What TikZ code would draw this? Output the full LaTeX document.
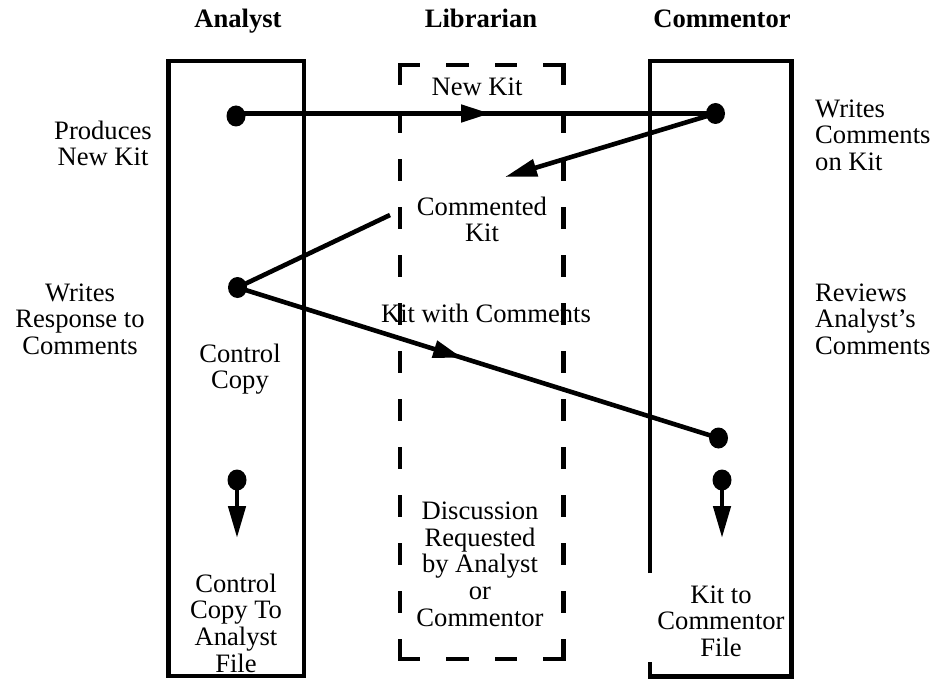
\documentclass[tikz,border=0pt]{standalone}
\usepackage{fontspec}
\setmainfont{Liberation Serif}
\usetikzlibrary{arrows.meta,decorations.markings,shapes.geometric}
\newcommand{\lblfont}{\fontsize{26.6}{26.7}\selectfont}
\begin{document}
\begin{tikzpicture}[x=1pt,y=-1pt,
  lane/.style={line width=4.8pt, line join=miter},
  dashside/.style={line width=4.8pt, line cap=rect},
  conn/.style={line width=4.6pt},
  tipend/.style={-{Triangle[length=32pt,width=17pt]}},
  midarrow/.style={postaction={decorate},
    decoration={markings, mark=at position #1 with {\arrow{Triangle[length=29pt,width=17pt]}}}},
  dot/.style={ellipse, fill=black, draw=none, inner sep=0pt, minimum width=19pt, minimum height=21pt},
  head/.style={font=\bfseries\lblfont, anchor=base, inner sep=0pt},
  lbl/.style={font=\lblfont, inner sep=0pt, anchor=north, align=center},
  lblleft/.style={font=\lblfont, inner sep=0pt, anchor=north west, align=left}]
\useasboundingbox (0,0) rectangle (933,679);

% headers
\node[head] (hA) at (238,28) {Analyst};
\node[head] (hL) at (481,28) {Librarian};
\node[head] (hC) at (722,28) {Commentor};

% lanes
\draw[lane] (168.3,61) rectangle (304,676);
\draw[lane] (650,573) -- (650,61) -- (791.7,61) -- (791.7,676.5) -- (650,676.5) -- (650,662);
\draw[dashside, dash pattern=on 18pt off 30.5pt] (400,65) -- (563.5,65);
\draw[dashside, dash pattern=on 18pt off 30.5pt] (400,659) -- (563.5,659);
\draw[dashside, dash pattern=on 18pt off 30pt] (400,65) -- (400,659);
\draw[dashside, dash pattern=on 18pt off 30pt] (563.5,65) -- (563.5,659);

% dots
\node[dot] (a1) at (236,116) {};
\node[dot] (c1) at (715.5,113.5) {};
\node[dot] (a2) at (237.5,287.5) {};
\node[dot] (c2) at (718.5,438) {};
\node[dot] (a3) at (237,480) {};
\node[dot] (c3) at (722,480) {};
\coordinate (t1) at (505,177);
\coordinate (s1) at (390,215);
\coordinate (d1) at (237,538);
\coordinate (d2) at (722,538);

% connectors
\draw[conn, midarrow=0.53] ([yshift=2.5pt]a1.center) -- (c1.center);
\draw[conn, tipend] (c1.center) -- (t1);
\draw[conn] (s1) -- (a2.center);
\draw[conn, midarrow=0.467] (a2.center) -- (c2.center);
\draw[conn, tipend] (a3.center) -- (d1);
\draw[conn, tipend] (c3.center) -- (d2);

% labels inside lanes
\node[lbl] (nk) at (477,76.3) {\strut New Kit};
\node[lbl] (ck) at (482,196.3) {\strut Commented\\Kit};
\node[lbl] (kwc) at (486,303.3) {\strut Kit with Comments};
\node[lbl] (cc) at (240,343.3) {\strut Control\\Copy};
\node[lbl] (disc) at (480,500.6) {\strut Discussion\\Requested\\by Analyst\\or\\Commentor};
\node[lbl] (ccf) at (236,573.3) {\strut Control\\Copy To\\Analyst\\File};
\node[lbl] (kcf) at (721,584.3) {\strut Kit to\\Commentor\\File};

% side labels
\node[lbl] (pnk) at (103,120.3) {\strut Produces\\New Kit};
\node[lbl] (wrc) at (80,282.3) {\strut Writes\\Response to\\Comments};
\node[lblleft] (wck) at (815,98.3) {\strut Writes\\Comments\\on Kit};
\node[lblleft] (rac) at (815,282.3) {\strut Reviews\\Analyst's\\Comments};
\end{tikzpicture}
\end{document}
